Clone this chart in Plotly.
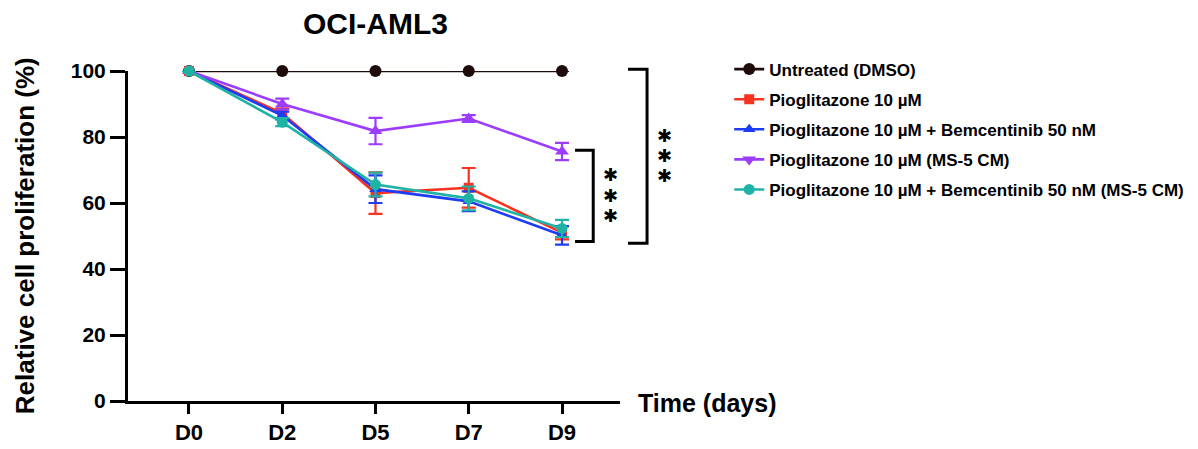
import plotly.graph_objects as go

days = ["D0", "D2", "D5", "D7", "D9"]

untreated = [100, 100, 100, 100, 100]
untreated_err = [0, 0, 0, 0, 0]
pio = [100, 87.2, 63.0, 64.6, 51.0]
pio_err = [0, 1.5, 6.3, 6.0, 2.0]
pio_bem = [100, 86.5, 64.2, 60.5, 50.2]
pio_bem_err = [0, 1.2, 4.2, 3.0, 2.8]
pio_ms5 = [100, 90.0, 81.8, 85.6, 75.6]
pio_ms5_err = [0, 1.6, 4.0, 1.0, 2.6]
pio_bem_ms5 = [100, 84.5, 65.6, 61.4, 52.3]
pio_bem_ms5_err = [0, 1.2, 3.6, 3.6, 2.6]

names = [
    "Untreated (DMSO)",
    "Pioglitazone 10 µM",
    "Pioglitazone 10 µM + Bemcentinib 50 nM",
    "Pioglitazone 10 µM (MS-5 CM)",
    "Pioglitazone 10 µM + Bemcentinib 50 nM (MS-5 CM)",
]
colors = ["#1e0c0c", "#f8321e", "#1f3cf5", "#9b3cff", "#1fb3a6"]
symbols = ["circle", "square", "triangle-up", "triangle-up", "circle"]
legend_symbols = ["circle", "square", "triangle-up", "triangle-down", "circle"]
sizes = [12, 10, 11, 12, 11]
series = [untreated, pio, pio_bem, pio_ms5, pio_bem_ms5]
errors = [untreated_err, pio_err, pio_bem_err, pio_ms5_err, pio_bem_ms5_err]

# significance brackets (x in category units, y in %)
inner_bracket = dict(x0=4.14, x1=4.335, ytop=76.0, ybot=48.3, star_x=4.525, star_y=62.4)
outer_bracket = dict(x0=4.708, x1=4.912, ytop=100.5, ybot=47.8, star_x=5.1, star_y=74.5)
STAR_STEP = 6.1  # vertical spacing of stacked asterisks, in %

XR = [-0.654, 4.622]
FONT = "Liberation Sans, Arial, sans-serif"

fig = go.Figure()
for i, (nm, c, sym, lsym, sz, ys, es) in enumerate(
        zip(names, colors, symbols, legend_symbols, sizes, series, errors)):
    same = sym == lsym
    fig.add_trace(go.Scatter(
        x=days, y=ys, name=nm, mode="lines+markers",
        legendgroup=f"g{i}", showlegend=same,
        line=dict(color=c, width=2.6),
        marker=dict(color=c, symbol=sym, size=sz),
        error_y=dict(type="data", array=es, visible=True, color=c,
                     thickness=2.2, width=7),
        cliponaxis=False,
    ))
    if not same:
        fig.add_trace(go.Scatter(
            x=[None], y=[None], name=nm, mode="lines+markers",
            legendgroup=f"g{i}", showlegend=True,
            line=dict(color=c, width=2.6),
            marker=dict(color=c, symbol=lsym, size=sz),
        ))


def px(xd):
    return (xd - XR[0]) / (XR[1] - XR[0])


def py(yd):
    return yd / 100.0


shapes = []
annotations = []
for b in (inner_bracket, outer_bracket):
    shapes.append(dict(
        type="path", xref="paper", yref="paper",
        path=(f"M{px(b['x0'])},{py(b['ytop'])} L{px(b['x1'])},{py(b['ytop'])} "
              f"L{px(b['x1'])},{py(b['ybot'])} L{px(b['x0'])},{py(b['ybot'])}"),
        line=dict(color="black", width=3),
    ))
    for k in (-1, 0, 1):
        annotations.append(dict(
            x=px(b["star_x"]), y=py(b["star_y"] + k * STAR_STEP),
            xref="paper", yref="paper",
            text="✱", showarrow=False, xanchor="center", yanchor="middle",
            font=dict(family="DejaVu Sans", size=18, color="black"),
        ))

annotations.append(dict(
    x=-0.209, y=0.5, xref="paper", yref="paper", textangle=-90,
    text="Relative cell proliferation (%)", showarrow=False,
    xanchor="center", yanchor="middle",
    font=dict(family=FONT, size=26, color="black", weight="bold"),
))
annotations.append(dict(
    x=1.033, y=-0.006, xref="paper", yref="paper",
    text="Time (days)", showarrow=False, xanchor="left", yanchor="middle",
    font=dict(family=FONT, size=25, color="black", weight="bold"),
))
annotations.append(dict(
    x=0.504, y=1.145, xref="paper", yref="paper",
    text="OCI-AML3", showarrow=False, xanchor="center", yanchor="middle",
    font=dict(family=FONT, size=30, color="black", weight="bold"),
))

fig.update_layout(
    width=1198, height=449, autosize=False,
    margin=dict(l=128, r=578, t=71, b=48, autoexpand=False),
    plot_bgcolor="white", paper_bgcolor="white",
    shapes=shapes, annotations=annotations,
    legend=dict(
        x=1.222, y=1.059, xanchor="left", yanchor="top",
        font=dict(family=FONT, size=17, color="black", weight="bold"),
        bgcolor="rgba(0,0,0,0)", tracegroupgap=5, itemwidth=30,
    ),
    xaxis=dict(
        type="category", range=XR, showline=True, linewidth=3, linecolor="black",
        ticks="outside", ticklen=10, tickwidth=3, tickcolor="black",
        showgrid=False, zeroline=False,
        tickfont=dict(family=FONT, size=22, color="black", weight="bold"),
    ),
    yaxis=dict(
        range=[0, 100], tickvals=[0, 20, 40, 60, 80, 100],
        showline=True, linewidth=3, linecolor="black",
        ticks="outside", ticklen=15, tickwidth=3, tickcolor="black",
        showgrid=False, zeroline=False,
        tickfont=dict(family=FONT, size=21, color="black", weight="bold"),
    ),
)

fig.write_html(
    "out.html",
    config={"displayModeBar": False},
    post_script="document.body.style.margin='0px';document.body.style.padding='0px';",
)
